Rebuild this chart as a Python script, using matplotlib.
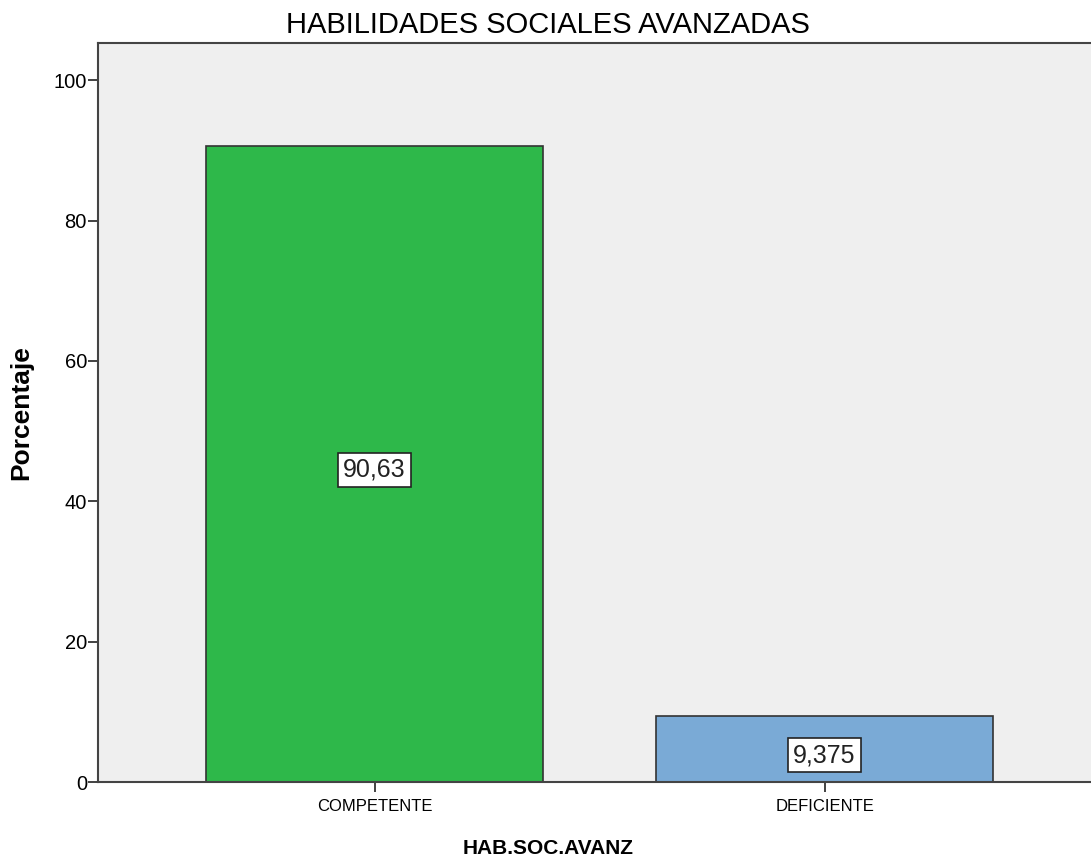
import matplotlib
matplotlib.use("Agg")
import matplotlib.pyplot as plt
import matplotlib.transforms as mtransforms

categories = ["COMPETENTE", "DEFICIENTE"]
values = [90.63, 9.375]
value_labels = ["90,63", "9,375"]
bar_colors = ["#2EB84A", "#7AAAD6"]
yticks = [0, 20, 40, 60, 80, 100]

plt.rcParams['font.family'] = ['Liberation Sans', 'DejaVu Sans']

fig = plt.figure(figsize=(10.91, 8.63), dpi=100)
ax = fig.add_axes([98/1091, 81/863, 1 - 98/1091, (782-43)/863])
ax.set_facecolor("#EFEFEF")

x = list(range(len(categories)))
ax.bar(x, values, width=0.75, color=bar_colors, edgecolor="#333333", linewidth=1.2, zorder=2)

shift = mtransforms.offset_copy(ax.transData, fig=fig, x=0, y=-6, units="dots")
for xi, v, lab in zip(x, values, value_labels):
    ax.text(xi, v / 2, lab, ha="center", va="center", fontsize=18, color="#222222", zorder=3,
            transform=shift,
            bbox=dict(boxstyle="square,pad=0.2", facecolor="white", edgecolor="#222222", linewidth=1.2))

ax.set_xlim(-0.6144, 1.592)
ax.set_ylim(0, 105.3)
ax.set_xticks(x)
ax.set_xticklabels(categories, fontsize=12)
ax.set_yticks(yticks)
ax.set_yticklabels([str(t) for t in yticks], fontsize=14.5)
ax.tick_params(axis="both", direction="out", length=7, width=1.3, color="#333333")
ax.tick_params(axis="x", pad=5)
ax.tick_params(axis="y", pad=1)
for s in ["left", "bottom", "top"]:
    ax.spines[s].set_color("#444444")
    ax.spines[s].set_linewidth(1.5)
ax.spines["right"].set_visible(False)

fig.text(548/1091, 1 - 25/863, "HABILIDADES SOCIALES AVANZADAS", ha="center", va="center", fontsize=21)
fig.text(548/1091, 1 - 848/863, "HAB.SOC.AVANZ", ha="center", va="center", fontsize=15, fontweight="bold")
fig.text(21/1091, 1 - 413/863, "Porcentaje", ha="center", va="center", rotation=90, fontsize=19, fontweight="bold")

fig.savefig("out.png", dpi=100, facecolor="white")
